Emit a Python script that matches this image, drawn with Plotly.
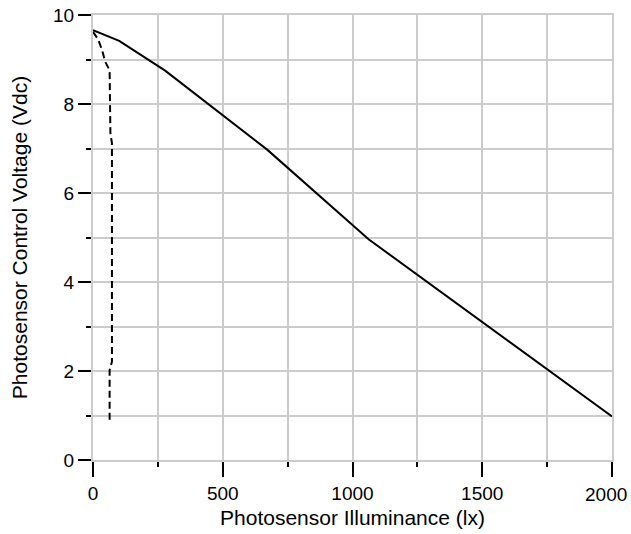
import plotly.graph_objects as go

# Solid curve
solid_x = [0, 101, 278, 670, 1062, 2000]
solid_y = [9.66, 9.42, 8.75, 6.98, 4.96, 0.98]

# Dashed curve
dash_x = [0, 20, 35, 47, 64, 67, 73, 73, 64, 64]
dash_y = [9.62, 9.45, 9.21, 8.95, 8.76, 7.35, 7.12, 2.21, 2.02, 0.82]

x_ticks = [0, 500, 1000, 1500, 2000]
x_ticklabels = ["0", "500", "1000", "1500", ""]  # last label placed as annotation (shifted left, like the reference)
last_x_label = "2000"
y_ticks = [0, 2, 4, 6, 8, 10]

FONT = "Liberation Sans, Arial, sans-serif"

fig = go.Figure()
fig.add_trace(go.Scatter(x=solid_x, y=solid_y, mode="lines",
                         line=dict(color="black", width=2), showlegend=False))
fig.add_trace(go.Scatter(x=dash_x, y=dash_y, mode="lines",
                         line=dict(color="black", width=2, dash="7px,4px"), showlegend=False))

fig.add_annotation(x=x_ticks[-1], y=0, xref="x", yref="paper", text=last_x_label,
                   showarrow=False, xanchor="right", yanchor="top", xshift=17, yshift=-22,
                   font=dict(size=19, family=FONT, color="black"))

grid = "#cccccc"
fig.update_layout(
    width=631, height=534,
    margin=dict(l=93, r=19, t=15, b=74),
    plot_bgcolor="white", paper_bgcolor="white",
    font=dict(family=FONT, color="black", size=19),
    xaxis=dict(
        range=[0, 2000], tickvals=x_ticks, ticktext=x_ticklabels,
        showgrid=True, gridcolor=grid, gridwidth=2, zeroline=False,
        showline=True, linecolor=grid, linewidth=2, mirror=True,
        ticks="outside", ticklen=15, tickwidth=2, tickcolor="black",
        minor=dict(dtick=250, showgrid=True, gridcolor=grid, gridwidth=2,
                   ticks="outside", ticklen=5, tickwidth=2, tickcolor="black"),
        tickfont=dict(size=19),
        title=dict(text="Photosensor Illuminance (lx)", font=dict(size=21), standoff=8),
        automargin=False,
    ),
    yaxis=dict(
        range=[0, 10], tickvals=y_ticks, ticktext=[str(v) for v in y_ticks],
        showgrid=True, gridcolor=grid, gridwidth=2, zeroline=False,
        showline=True, linecolor=grid, linewidth=2, mirror=True,
        ticks="outside", ticklen=13, tickwidth=2, tickcolor="black",
        minor=dict(dtick=1, showgrid=True, gridcolor=grid, gridwidth=2,
                   ticks="outside", ticklen=5, tickwidth=2, tickcolor="black"),
        tickfont=dict(size=19), ticksuffix="\u00a0",
        title=dict(text="Photosensor Control Voltage (Vdc)", font=dict(size=21), standoff=20),
        automargin=False,
    ),
)

fig.write_html("out.html", config={"displayModeBar": False},
               post_script="document.body.style.margin='0';")
